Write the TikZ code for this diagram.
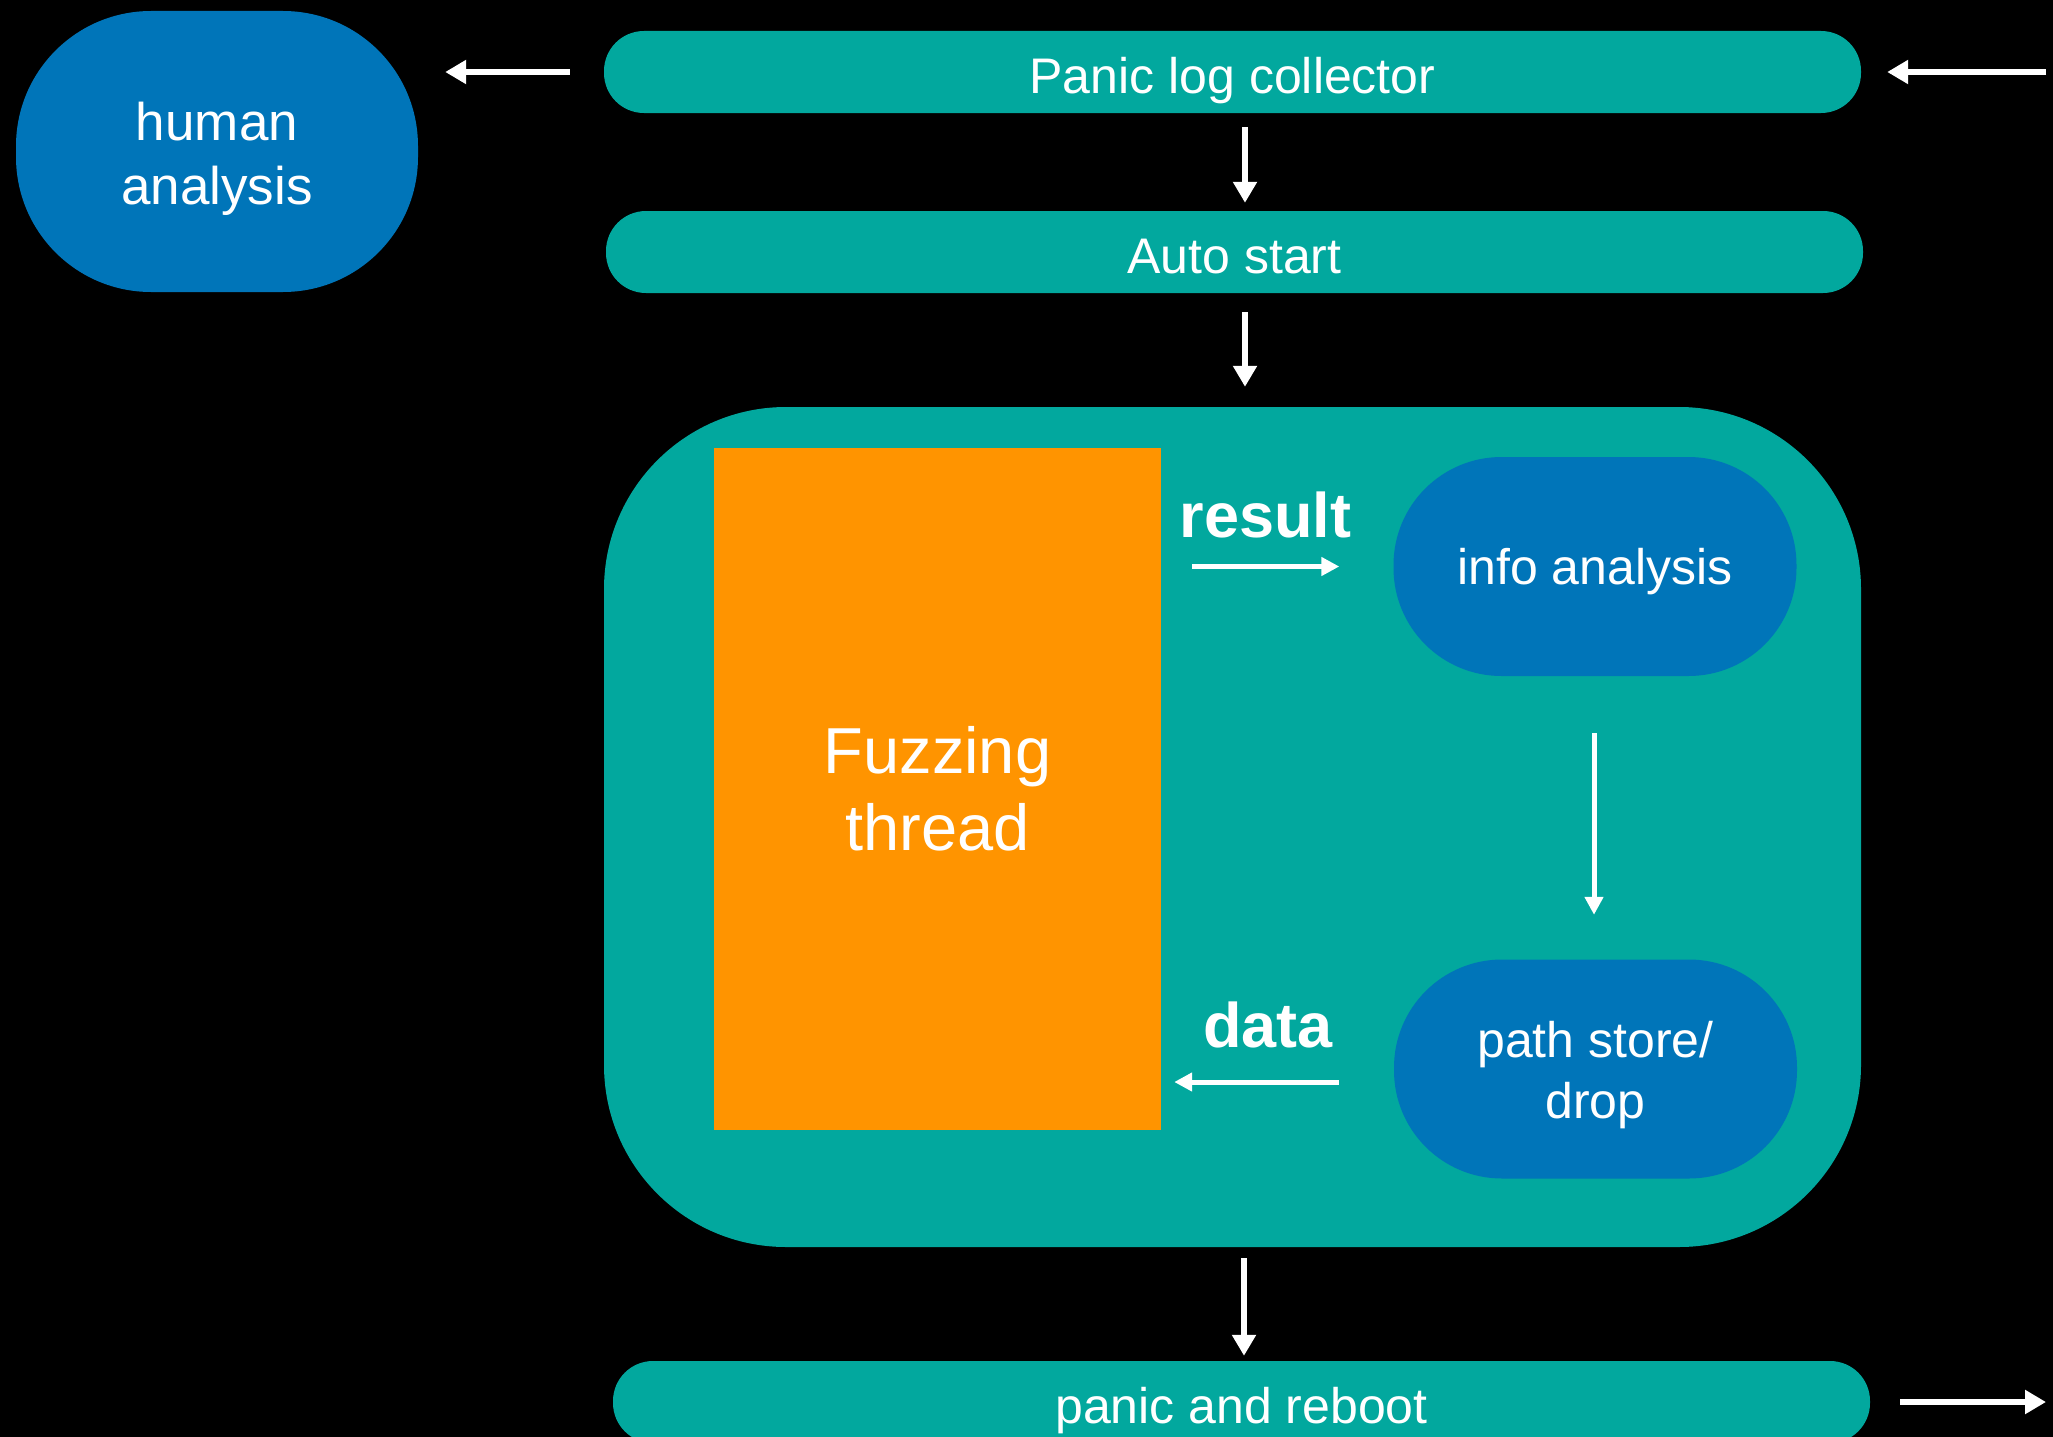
\documentclass[tikz,border=0pt]{standalone}
\usepackage{fontspec}
\setmainfont{Liberation Sans}
\usetikzlibrary{arrows.meta,calc}
\definecolor{tealbg}{RGB}{2,168,158}
\definecolor{bluebox}{RGB}{0,117,185}
\definecolor{orangebox}{RGB}{255,148,0}

\begin{document}
\begin{tikzpicture}[x=1pt,y=-1pt,
  bar/.style={fill=tealbg, rounded corners=40pt, minimum width=1257pt,
    minimum height=82pt, inner sep=0pt, text=white,
    font=\fontsize{50}{60}\selectfont, text height=42pt, text depth=0pt},
  blob/.style={fill=bluebox, rounded corners=108pt, minimum width=403pt,
    minimum height=219pt, inner sep=0pt, text=white, align=center},
  bigarr/.style={draw=white, line width=6pt, -{Triangle[length=21pt,width=23pt]}},
  smallarr/.style={draw=white, line width=5pt, -{Triangle[length=18pt,width=18pt]}},
  lbl/.style={text=white, font=\bfseries\fontsize{63}{70}\selectfont,
    anchor=base, inner sep=0pt}
]
% canvas
\fill[black] (0,0) rectangle (2053,1437);
\useasboundingbox (0,0) rectangle (2053,1437);

% main flow
\node[blob, minimum width=402pt, minimum height=281pt, rounded corners=135pt,
  font=\fontsize{53}{64}\selectfont] (human) at (217,151.5)
  {\rule{0pt}{52pt}human\\analysis};
\node[bar] (collector) at (1232.5,72) {Panic log collector};
\node[bar] (autostart) at (1234.5,252) {Auto start};
\node[fill=tealbg, rounded corners=182pt, minimum width=1257pt,
  minimum height=840pt, inner sep=0pt] (engine) at (1232.5,827) {};
\node[bar] (reboot) at (1241.5,1402) {panic and reboot};

% inside the fuzzing engine
\node[fill=orangebox, minimum width=447pt, minimum height=682pt, inner sep=0pt,
  text=white, align=center, font=\fontsize{65}{77}\selectfont]
  (fuzz) at (937.5,789) {Fuzzing\\thread};
\node[blob, font=\fontsize{50}{60}\selectfont, text depth=0pt]
  (info) at (1595,566.5) {info analysis};
\node[blob, font=\fontsize{50}{61}\selectfont]
  (store) at (1595.5,1069) {\rule{0pt}{47.5pt}path store/\\drop};
\node[lbl] (resultlbl) at (1265.5,537) {result};
\node[lbl] (datalbl) at (1268,1047) {data};

% free ends
\coordinate (logsrc) at (2046,72);
\coordinate (rebootout) at (2046,1402);

% connectors
\draw[bigarr] ([xshift=-34pt]collector.west) -- ([xshift=27pt]collector.west -| human.east);
\draw[bigarr] (logsrc) -- ([xshift=26pt]collector.east);
\draw[bigarr] ([shift={(12.5,14)}]collector.south) -- ([shift={(10.5,-8)}]autostart.north);
\draw[bigarr] ([shift={(10.5,19)}]autostart.south) -- ([shift={(12.5,-20)}]engine.north);
\draw[bigarr] ([shift={(11.5,11)}]engine.south) -- ([shift={(2.5,-5)}]reboot.north);
\draw[bigarr] ([xshift=30pt]reboot.east) -- (rebootout);

\draw[smallarr] ([xshift=31pt]fuzz.east |- info.west) -- ([xshift=-54pt]info.west);
\draw[smallarr] ([shift={(-1,57)}]info.south) -- ([shift={(-1.5,-44.5)}]store.north);
\draw[smallarr] ([shift={(-55,13)}]store.west) -- ([shift={(13,13)}]store.west -| fuzz.east);
\end{tikzpicture}
\end{document}
